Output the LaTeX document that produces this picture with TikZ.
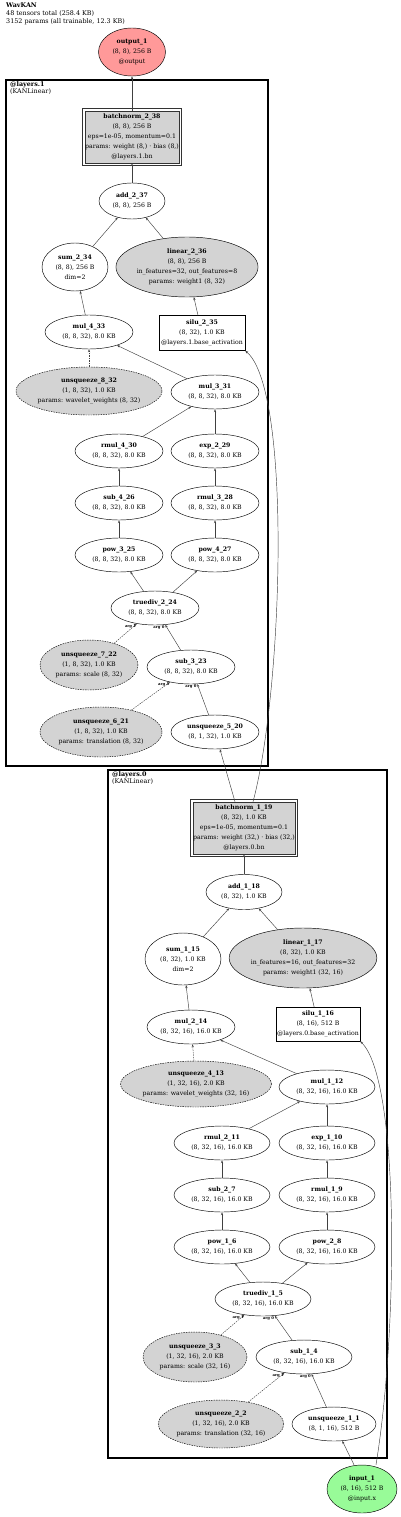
\documentclass[tikz,border=0pt]{standalone}
\usepackage{fontspec}
\setmainfont{DejaVu Serif}
\usetikzlibrary{shapes.geometric,arrows.meta}
\definecolor{paramgray}{HTML}{D3D3D3}
\definecolor{outred}{HTML}{FF9999}
\definecolor{ingreen}{HTML}{98FB98}
\tikzset{
  tnode/.style={draw, ellipse, inner sep=0pt, line width=0.45pt, align=center},
  pnode/.style={tnode, fill=paramgray},
  dnode/.style={pnode, dash pattern=on 1.5pt off 1pt},
  mbox/.style={draw, rectangle, inner sep=0pt, line width=0.45pt, align=center},
  bnbox/.style={mbox, fill=paramgray, draw=black!80},
  bnline/.style={draw=black!80, line width=0.5pt},
  edge/.style={-{Stealth[length=3pt,width=2.2pt]}, line width=0.45pt, draw=black!75},
  dedge/.style={edge, dash pattern=on 1.5pt off 1pt},
  argl/.style={font=\fontsize{3.8}{3.8}\selectfont\bfseries, inner sep=0.5pt},
  clus/.style={line width=2.4pt},
}
\begin{document}
\begin{tikzpicture}[x=1pt, y=-1pt, every node/.style={font=\fontsize{6.2}{10}\selectfont}]
  \useasboundingbox (0,0) rectangle (400,1517);
  \node[anchor=north west, align=left, inner sep=0pt, font=\fontsize{6.4}{7.6}\selectfont] (title) at (6,3) {\textbf{WavKAN}\\48 tensors total (258.4 KB)\\3152 params (all trainable, 12.3 KB)};
  % clusters
  \draw[clus] (6,80) rectangle (268,766);
  \node[anchor=north west, align=left, inner sep=0pt, font=\fontsize{6.4}{7.6}\selectfont] (lab1) at (10,81) {\textbf{@layers.1}\\(KANLinear)};
  \draw[clus] (108,770) rectangle (387,1458);
  \node[anchor=north west, align=left, inner sep=0pt, font=\fontsize{6.4}{7.6}\selectfont] (lab0) at (112,771) {\textbf{@layers.0}\\(KANLinear)};

  \node[tnode, fill=outred, minimum width=67, minimum height=48] (out1) at (132,52) {\textbf{output\_1}\\(8, 8), 256 B\\@output};

  % layers.1
  \node[bnbox, minimum width=94, minimum height=52] (bn238) at (132,137) {\textbf{batchnorm\_2\_38}\\(8, 8), 256 B\\eps=1e-05, momentum=0.1\\params: weight (8,) · bias (8,)\\@layers.1.bn};
  \draw[bnline] ([shift={(-2.5,-2.5)}]bn238.north west) rectangle ([shift={(2.5,2.5)}]bn238.south east);
  \node[tnode, minimum width=66, minimum height=36] (add237) at (132,201) {\textbf{add\_2\_37}\\(8, 8), 256 B};
  \node[tnode, minimum width=66, minimum height=48] (sum234) at (75,267) {\textbf{sum\_2\_34}\\(8, 8), 256 B\\dim=2};
  \node[pnode, minimum width=140, minimum height=60] (lin236) at (187,267) {\textbf{linear\_2\_36}\\(8, 8), 256 B\\in\_features=32, out\_features=8\\params: weight1 (8, 32)};
  \node[mbox, minimum width=86, minimum height=35] (silu235) at (202,333) {\textbf{silu\_2\_35}\\(8, 32), 1.0 KB\\@layers.1.base\_activation};
  \node[tnode, minimum width=88, minimum height=34] (mul433) at (89,332) {\textbf{mul\_4\_33}\\(8, 8, 32), 8.0 KB};
  \node[dnode, minimum width=146, minimum height=48] (unsq832) at (89,391) {\textbf{unsqueeze\_8\_32}\\(1, 8, 32), 1.0 KB\\params: wavelet\_weights (8, 32)};
  \node[tnode, minimum width=88, minimum height=34] (mul331) at (215,392) {\textbf{mul\_3\_31}\\(8, 8, 32), 8.0 KB};
  \node[tnode, minimum width=88, minimum height=34] (rmul430) at (119,451) {\textbf{rmul\_4\_30}\\(8, 8, 32), 8.0 KB};
  \node[tnode, minimum width=88, minimum height=34] (exp229) at (215,451) {\textbf{exp\_2\_29}\\(8, 8, 32), 8.0 KB};
  \node[tnode, minimum width=88, minimum height=34] (sub426) at (119,503) {\textbf{sub\_4\_26}\\(8, 8, 32), 8.0 KB};
  \node[tnode, minimum width=88, minimum height=34] (rmul328) at (215,503) {\textbf{rmul\_3\_28}\\(8, 8, 32), 8.0 KB};
  \node[tnode, minimum width=88, minimum height=34] (pow325) at (119,555) {\textbf{pow\_3\_25}\\(8, 8, 32), 8.0 KB};
  \node[tnode, minimum width=88, minimum height=34] (pow427) at (215,555) {\textbf{pow\_4\_27}\\(8, 8, 32), 8.0 KB};
  \node[tnode, minimum width=88, minimum height=34] (td224) at (155,608) {\textbf{truediv\_2\_24}\\(8, 8, 32), 8.0 KB};
  \node[dnode, minimum width=98, minimum height=50] (unsq722) at (89,665) {\textbf{unsqueeze\_7\_22}\\(1, 8, 32), 1.0 KB\\params: scale (8, 32)};
  \node[tnode, minimum width=88, minimum height=34] (sub323) at (191,667) {\textbf{sub\_3\_23}\\(8, 8, 32), 8.0 KB};
  \node[dnode, minimum width=122, minimum height=50] (unsq621) at (101,732) {\textbf{unsqueeze\_6\_21}\\(1, 8, 32), 1.0 KB\\params: translation (8, 32)};
  \node[tnode, minimum width=88, minimum height=34] (unsq520) at (215,732) {\textbf{unsqueeze\_5\_20}\\(8, 1, 32), 1.0 KB};

  % layers.0
  \node[bnbox, minimum width=100, minimum height=52] (bn119) at (244,828) {\textbf{batchnorm\_1\_19}\\(8, 32), 1.0 KB\\eps=1e-05, momentum=0.1\\params: weight (32,) · bias (32,)\\@layers.0.bn};
  \draw[bnline] ([shift={(-2.5,-2.5)}]bn119.north west) rectangle ([shift={(2.5,2.5)}]bn119.south east);
  \node[tnode, minimum width=76, minimum height=35] (add118) at (244,892) {\textbf{add\_1\_18}\\(8, 32), 1.0 KB};
  \node[tnode, minimum width=76, minimum height=52] (sum115) at (183,959) {\textbf{sum\_1\_15}\\(8, 32), 1.0 KB\\dim=2};
  \node[pnode, minimum width=144, minimum height=60] (lin117) at (303,958) {\textbf{linear\_1\_17}\\(8, 32), 1.0 KB\\in\_features=16, out\_features=32\\params: weight1 (32, 16)};
  \node[mbox, minimum width=84, minimum height=34] (silu116) at (318,1024) {\textbf{silu\_1\_16}\\(8, 16), 512 B\\@layers.0.base\_activation};
  \node[tnode, minimum width=88, minimum height=34] (mul214) at (191,1027) {\textbf{mul\_2\_14}\\(8, 32, 16), 16.0 KB};
  \node[dnode, minimum width=150, minimum height=46] (unsq413) at (196,1084) {\textbf{unsqueeze\_4\_13}\\(1, 32, 16), 2.0 KB\\params: wavelet\_weights (32, 16)};
  \node[tnode, minimum width=96, minimum height=34] (mul112) at (327,1087) {\textbf{mul\_1\_12}\\(8, 32, 16), 16.0 KB};
  \node[tnode, minimum width=96, minimum height=34] (rmul211) at (222,1143) {\textbf{rmul\_2\_11}\\(8, 32, 16), 16.0 KB};
  \node[tnode, minimum width=96, minimum height=34] (exp110) at (327,1143) {\textbf{exp\_1\_10}\\(8, 32, 16), 16.0 KB};
  \node[tnode, minimum width=96, minimum height=34] (sub27) at (222,1195) {\textbf{sub\_2\_7}\\(8, 32, 16), 16.0 KB};
  \node[tnode, minimum width=96, minimum height=34] (rmul19) at (327,1195) {\textbf{rmul\_1\_9}\\(8, 32, 16), 16.0 KB};
  \node[tnode, minimum width=96, minimum height=34] (pow16) at (222,1247) {\textbf{pow\_1\_6}\\(8, 32, 16), 16.0 KB};
  \node[tnode, minimum width=96, minimum height=34] (pow28) at (327,1247) {\textbf{pow\_2\_8}\\(8, 32, 16), 16.0 KB};
  \node[tnode, minimum width=96, minimum height=34] (td15) at (263,1299) {\textbf{truediv\_1\_5}\\(8, 32, 16), 16.0 KB};
  \node[dnode, minimum width=104, minimum height=50] (unsq33) at (195,1357) {\textbf{unsqueeze\_3\_3}\\(1, 32, 16), 2.0 KB\\params: scale (32, 16)};
  \node[tnode, minimum width=96, minimum height=34] (sub14) at (304,1357) {\textbf{sub\_1\_4}\\(8, 32, 16), 16.0 KB};
  \node[dnode, minimum width=124, minimum height=48] (unsq22) at (221,1424) {\textbf{unsqueeze\_2\_2}\\(1, 32, 16), 2.0 KB\\params: translation (32, 16)};
  \node[tnode, minimum width=84, minimum height=34] (unsq11) at (334,1424) {\textbf{unsqueeze\_1\_1}\\(8, 1, 16), 512 B};
  \node[tnode, fill=ingreen, minimum width=70, minimum height=48] (in1) at (362,1489) {\textbf{input\_1}\\(8, 16), 512 B\\@input.x};

  % edges layers.1
  \draw[edge] (bn238) -- (out1);
  \draw[edge] (add237) -- (bn238);
  \draw[edge] (sum234) -- (add237);
  \draw[edge] (lin236) -- (add237);
  \draw[edge] (mul433) -- (sum234);
  \draw[edge] (silu235) -- (lin236);
  \draw[dedge] (unsq832) -- (mul433);
  \draw[edge] (mul331) -- (mul433);
  \draw[edge] (rmul430) -- (mul331);
  \draw[edge] (exp229) -- (mul331);
  \draw[edge] (sub426) -- (rmul430);
  \draw[edge] (rmul328) -- (exp229);
  \draw[edge] (pow325) -- (sub426);
  \draw[edge] (pow427) -- (rmul328);
  \draw[edge] (td224) -- (pow325);
  \draw[edge] (td224) -- (pow427);
  \draw[dedge] (unsq722) -- (td224) node[argl, pos=1, anchor=north east] {arg 1};
  \draw[edge] (sub323) -- (td224) node[argl, pos=1, anchor=north east] {arg 0};
  \draw[dedge] (unsq621) -- (sub323) node[argl, pos=1, anchor=north east] {arg 1};
  \draw[edge] (unsq520) -- (sub323) node[argl, pos=1, anchor=north east] {arg 0};
  \draw[edge] ([xshift=-9pt]bn119.north) -- (unsq520);
  \draw[edge] ([xshift=9pt]bn119.north) .. controls (283,690) and (292,390) .. (silu235.south east);

  % edges layers.0
  \draw[edge] (add118) -- (bn119);
  \draw[edge] (sum115) -- (add118);
  \draw[edge] (lin117) -- (add118);
  \draw[edge] (mul214) -- (sum115);
  \draw[edge] (silu116) -- (lin117);
  \draw[dedge] (unsq413) -- (mul214);
  \draw[edge] (mul112) -- (mul214);
  \draw[edge] (rmul211) -- (mul112);
  \draw[edge] (exp110) -- (mul112);
  \draw[edge] (sub27) -- (rmul211);
  \draw[edge] (rmul19) -- (exp110);
  \draw[edge] (pow16) -- (sub27);
  \draw[edge] (pow28) -- (rmul19);
  \draw[edge] (td15) -- (pow16);
  \draw[edge] (td15) -- (pow28);
  \draw[dedge] (unsq33) -- (td15) node[argl, pos=1, anchor=north east] {arg 1};
  \draw[edge] (sub14) -- (td15) node[argl, pos=1, anchor=north east] {arg 0};
  \draw[dedge] (unsq22) -- (sub14) node[argl, pos=1, anchor=north east] {arg 1};
  \draw[edge] (unsq11) -- (sub14) node[argl, pos=1, anchor=north east] {arg 0};
  \draw[edge] ([xshift=-8pt]in1.north) -- (unsq11);
  \draw[edge] ([xshift=14pt]in1.north) .. controls (398,1330) and (400,1080) .. (silu116.south east);
\end{tikzpicture}
\end{document}
